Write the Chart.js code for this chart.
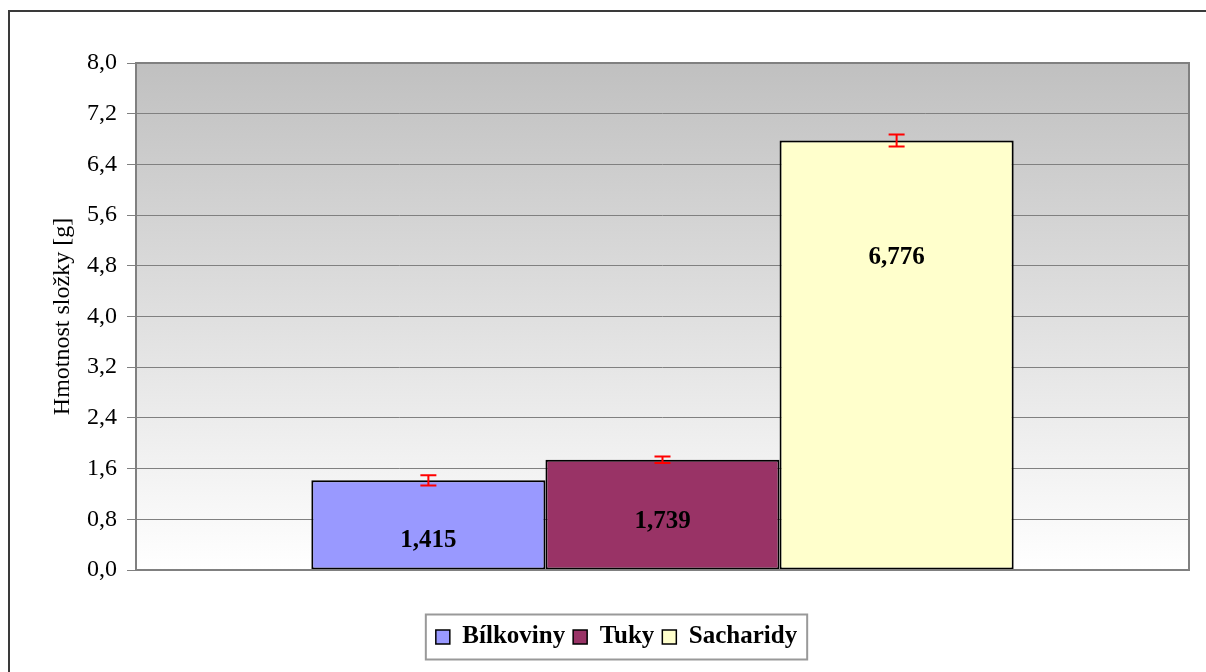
<!DOCTYPE html>
<html>
<head>
<meta charset="utf-8">
<script src="https://cdn.jsdelivr.net/npm/chart.js@4/dist/chart.umd.min.js"></script>
<style>
  html, body { margin: 0; padding: 0; background: #fff; }
  #wrap { position: relative; width: 1206px; height: 672px; overflow: hidden; }
</style>
</head>
<body>
<div id="wrap"><canvas id="c" width="1206" height="672"></canvas></div>
<script>
// ---- data ----
const categories = [''];
const seriesNames = ['Bílkoviny', 'Tuky', 'Sacharidy'];
const seriesValues = [1.415, 1.739, 6.776];
const seriesErrors = [0.08, 0.05, 0.095];
const labelAt = [0.47, 0.77, 4.93];
const seriesColors = ['#9999ff', '#993366', '#ffffcc'];
const yTitle = 'Hmotnost složky [g]';
const yMin = 0, yMax = 8, yStep = 0.8;

Chart.defaults.font.family = '"Liberation Serif", "Times New Roman", serif';
Chart.defaults.color = '#000';

const fmt = v => v.toFixed(1).replace('.', ',');
const fmt3 = v => v.toFixed(3).replace('.', ',');

const bgPlugin = {
  id: 'bg',
  beforeDraw(chart) {
    const { ctx, chartArea: a } = chart;
    ctx.save();
    ctx.strokeStyle = '#3a3a3a';
    ctx.lineWidth = 2;
    ctx.strokeRect(9, 11, 1300, 1000);
    const g = ctx.createLinearGradient(0, a.top, 0, a.bottom);
    g.addColorStop(0, '#c0c0c0');
    g.addColorStop(1, '#ffffff');
    ctx.fillStyle = g;
    ctx.fillRect(a.left, a.top, a.right - a.left, a.bottom - a.top);
    ctx.restore();
  },
  afterDatasetsDraw(chart) {
    const { ctx, chartArea: a } = chart;
    const y = chart.scales.y;
    ctx.save();
    // plot border
    ctx.strokeStyle = '#808080';
    ctx.lineWidth = 2;
    ctx.strokeRect(a.left, a.top, a.right - a.left, a.bottom - a.top);
    // error bars and labels
    chart.data.datasets.forEach((ds, i) => {
      const bar = chart.getDatasetMeta(i).data[0];
      const v = ds.data[0];
      const e = seriesErrors[i];
      const yt = y.getPixelForValue(v + e), yb = y.getPixelForValue(v - e);
      ctx.strokeStyle = '#ff0000';
      ctx.lineWidth = 2;
      ctx.beginPath();
      ctx.moveTo(bar.x, yt); ctx.lineTo(bar.x, yb);
      ctx.moveTo(bar.x - 8, yt); ctx.lineTo(bar.x + 8, yt);
      ctx.moveTo(bar.x - 8, yb); ctx.lineTo(bar.x + 8, yb);
      ctx.stroke();
      ctx.fillStyle = '#000';
      ctx.font = 'bold 25px "Liberation Serif", serif';
      ctx.textAlign = 'center';
      ctx.textBaseline = 'middle';
      ctx.fillText(fmt3(v), bar.x, y.getPixelForValue(labelAt[i]));
    });
    // legend frame
    const lg = chart.legend;
    if (lg && lg.legendHitBoxes && lg.legendHitBoxes.length) {
      const hb = lg.legendHitBoxes;
      const l = hb[0].left - 10;
      const r = hb[hb.length - 1].left + hb[hb.length - 1].width + 10;
      const cy = hb[0].top + hb[0].height / 2;
      ctx.strokeStyle = '#999';
      ctx.lineWidth = 2;
      ctx.strokeRect(l, cy - 22.5, r - l, 45);
    }
    ctx.restore();
  }
};

new Chart(document.getElementById('c'), {
  type: 'bar',
  data: {
    labels: categories,
    datasets: seriesNames.map((n, i) => ({
      label: n,
      data: [seriesValues[i]],
      backgroundColor: seriesColors[i],
      borderColor: '#000',
      borderWidth: 2,
      borderSkipped: false,
      categoryPercentage: 0.667,
      barPercentage: 1.0
    }))
  },
  options: {
    responsive: false,
    animation: false,
    devicePixelRatio: 1,
    layout: { padding: { left: 44, right: 17, top: 63, bottom: 12.5 } },
    plugins: {
      tooltip: { enabled: false },
      legend: {
        position: 'bottom',
        labels: {
          boxWidth: 14, boxHeight: 14, padding: 8,
          color: '#000',
          font: { size: 25, weight: 'bold' },
          generateLabels(chart) {
            return chart.data.datasets.map((ds, i) => ({
              text: ds.label, fillStyle: ds.backgroundColor,
              strokeStyle: '#000', lineWidth: 1.5, datasetIndex: i
            }));
          }
        }
      }
    },
    scales: {
      x: {
        display: true,
        grid: { display: false, drawTicks: false },
        border: { display: false },
        ticks: { display: false },
        afterFit(s) { s.height = 46.5; }
      },
      y: {
        min: yMin, max: yMax,
        afterFit(s) { s.width = 92; },
        border: { display: false },
        grid: { color: '#808080', lineWidth: 1, tickLength: 9, tickColor: '#808080' },
        ticks: { stepSize: yStep, padding: 10, font: { size: 24 }, callback: v => fmt(v) },
        title: { display: true, text: yTitle, font: { size: 24 }, padding: 4 },
        afterBuildTicks(s) {
          const t = [];
          for (let k = 0; k <= Math.round((yMax - yMin) / yStep); k++) t.push({ value: +(yMin + k * yStep).toFixed(4) });
          s.ticks = t;
        }
      }
    }
  },
  plugins: [bgPlugin]
});
</script>
</body>
</html>
